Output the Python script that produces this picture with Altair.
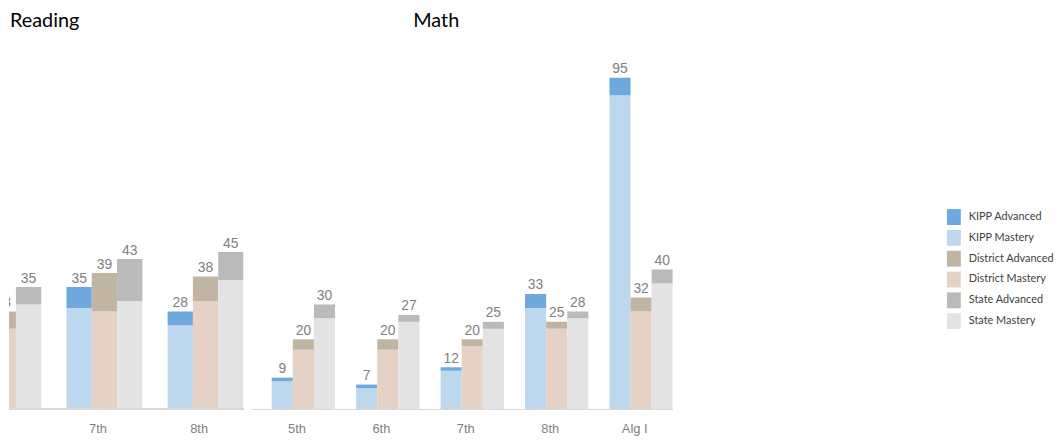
import altair as alt
import pandas as pd

orgs = ["KIPP", "District", "State"]
levels = ["Mastery", "Advanced"]

reading_grades = ["6th", "7th", "8th"]
reading_visible_labels = ["7th", "8th"]
reading_kipp_mastery = [None, 29, 24]
reading_kipp_advanced = [None, 6, 4]
reading_district_mastery = [23, 28, 31]
reading_district_advanced = [5, 11, 7]
reading_state_mastery = [30, 31, 37]
reading_state_advanced = [5, 12, 8]

math_grades = ["5th", "6th", "7th", "8th", "Alg I"]
math_kipp_mastery = [8, 6, 11, 29, 90]
math_kipp_advanced = [1, 1, 1, 4, 5]
math_district_mastery = [17, 17, 18, 23, 28]
math_district_advanced = [3, 3, 2, 2, 4]
math_state_mastery = [26, 25, 23, 26, 36]
math_state_advanced = [4, 2, 2, 2, 4]

series = ["KIPP Advanced", "KIPP Mastery", "District Advanced",
          "District Mastery", "State Advanced", "State Mastery"]
colors = ["#6fa8dc", "#bdd7ee", "#c0b4a3", "#e6d1c5", "#bababa", "#e3e3e3"]


def build(grades, data):
    rows, totals = [], []
    for org in orgs:
        mast, adv = data[org]
        for g, m, a in zip(grades, mast, adv):
            if m is None:
                continue
            rows.append({"grade": g, "org": org, "level": "Mastery",
                         "series": f"{org} Mastery", "value": m, "rank": 0})
            rows.append({"grade": g, "org": org, "level": "Advanced",
                         "series": f"{org} Advanced", "value": a, "rank": 1})
            totals.append({"grade": g, "org": org, "total": m + a})
    return pd.DataFrame(rows), pd.DataFrame(totals)


reading_df, reading_tot = build(reading_grades, {
    "KIPP": (reading_kipp_mastery, reading_kipp_advanced),
    "District": (reading_district_mastery, reading_district_advanced),
    "State": (reading_state_mastery, reading_state_advanced),
})
math_df, math_tot = build(math_grades, {
    "KIPP": (math_kipp_mastery, math_kipp_advanced),
    "District": (math_district_mastery, math_district_advanced),
    "State": (math_state_mastery, math_state_advanced),
})

H = 351.6
LABEL_FONT = "Liberation Sans"


def panel(df, tot, grades, label_grades, width, title, title_dx, x_range=None, own_domain=True):
    scale_kw = dict(domain=grades, paddingInner=0.25, paddingOuter=0.125, align=1)
    if x_range is not None:
        scale_kw["range"] = x_range
    axis_kw = dict(title=None, labels=False, ticks=False, domain=own_domain,
                   domainColor="#d9d9d9", domainWidth=1)
    x = alt.X("grade:N", sort=grades, scale=alt.Scale(**scale_kw), axis=alt.Axis(**axis_kw))
    xo = alt.XOffset("org:N", scale=alt.Scale(domain=orgs))
    yscale = alt.Scale(domain=[0, 100])
    bars = alt.Chart(df).mark_bar(clip=True).encode(
        x=x, xOffset=xo,
        y=alt.Y("value:Q", stack="zero", scale=yscale, axis=None),
        color=alt.Color("series:N", scale=alt.Scale(domain=series, range=colors),
                        legend=alt.Legend(title=None, orient="none", legendX=945,
                                          legendY=150, symbolType="M-0.875,-1H0.875V1H-0.875Z",
                                          symbolSize=256, symbolStrokeWidth=0,
                                          labelFont="Lato", labelFontSize=11,
                                          labelColor="#404040", labelOffset=7,
                                          rowPadding=5, padding=0)),
        order=alt.Order("rank:Q"),
    )
    text = alt.Chart(tot).mark_text(clip=True, dy=-4.5, baseline="alphabetic",
                                    font=LABEL_FONT, fontSize=14, color="#7f7f7f").encode(
        x=x, xOffset=xo,
        y=alt.Y("total:Q", scale=yscale, axis=None),
        text="total:Q",
    )
    cat_labels = alt.Chart(pd.DataFrame({"grade": label_grades})).mark_text(
        dx=-6.5, baseline="middle", font=LABEL_FONT, fontSize=13, color="#7f7f7f"
    ).encode(x=x, y=alt.value(H + 20), text="grade:N")
    layers = [bars, text, cat_labels]
    if not own_domain:
        rule = alt.Chart(df).mark_rule(color="#d9d9d9").encode(
            y=alt.datum(0), x=alt.value(0), x2=alt.value(width))
        layers.append(rule)
    return alt.layer(*layers).properties(
        width=width, height=H,
        title=alt.Title(title, anchor="start", frame="group", dx=title_dx, offset=14,
                        baseline="alphabetic", font="Lato", fontSize=20,
                        fontWeight="normal", color="#000000"),
    )


reading = panel(reading_df, reading_tot, reading_grades, reading_visible_labels, 236.5,
                "Reading", 1, x_range=[-69.5, 236.5], own_domain=False)
math = panel(math_df, math_tot, math_grades, math_grades, 425.8, "Math", 164)

chart = alt.hconcat(reading, math, spacing=6.7, bounds="flush").resolve_scale(
    xOffset="independent"
).configure_view(stroke=None).properties(
    padding={"left": 0, "top": 1, "right": 0, "bottom": 0}
)

chart.save("out.html", embed_options={"renderer": "svg", "actions": False})
